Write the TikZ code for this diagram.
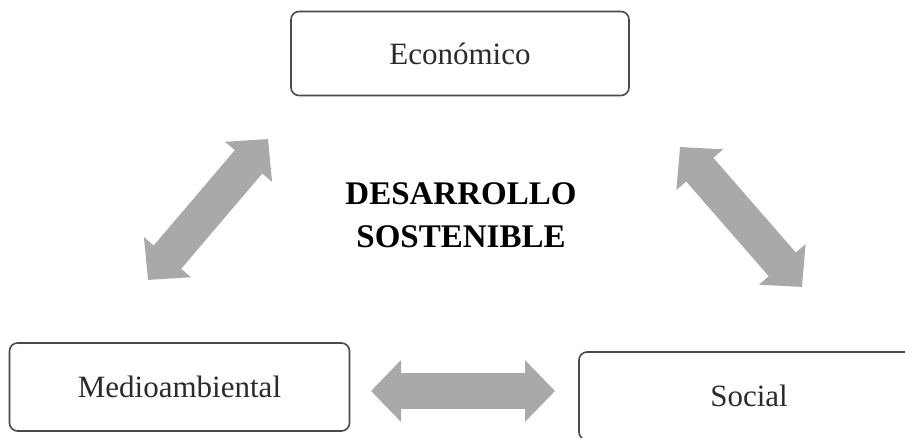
\documentclass[tikz,border=0pt]{standalone}
\usepackage{fontspec}
\setmainfont{Liberation Serif}
\usepackage{tikz}
\usetikzlibrary{arrows.meta}
\definecolor{boxgray}{HTML}{4A4A4A}
\definecolor{textgray}{HTML}{2B2B2B}
\definecolor{arrowgray}{HTML}{A9A9A9}
\tikzset{
    pillar/.style={draw=boxgray, line width=1.6pt, rounded corners=8pt, minimum width=338pt, minimum height=84pt, text=textgray, font=\fontsize{31}{36}\selectfont},
    link/.style={arrowgray, line width=36pt, {Triangle[width=60pt, length=30pt]}-{Triangle[width=60pt, length=30pt]}}
}

\begin{document}
\begin{tikzpicture}[x=1pt, y=-1pt]
    \clip (0, 0) rectangle (905, 438);
    \fill[white] (0, 0) rectangle (905, 438);
    \node[pillar] (eco) at (460, 53.5) {Económico};
    \node[pillar, minimum width=340pt, minimum height=88pt] (med) at (179.5, 387) {Medioambiental};
    \node[pillar, minimum width=340pt, minimum height=88pt] (soc) at (749, 396) {Social};
    \node[text=black, font=\fontsize{33}{43}\selectfont\bfseries, align=center] (ds) at (461, 215) {DESARROLLO\\SOSTENIBLE};
    \coordinate (medtop) at (148, 280);
    \coordinate (ecoleft) at (268, 139);
    \coordinate (ecoright) at (680, 147);
    \coordinate (soctop) at (802, 287);
    \coordinate (medright) at (371, 391);
    \coordinate (socleft) at (555, 391);
    \draw[link] (medtop) -- (ecoleft);
    \draw[link] (ecoright) -- (soctop);
    \draw[link] (medright) -- (socleft);
\end{tikzpicture}
\end{document}
